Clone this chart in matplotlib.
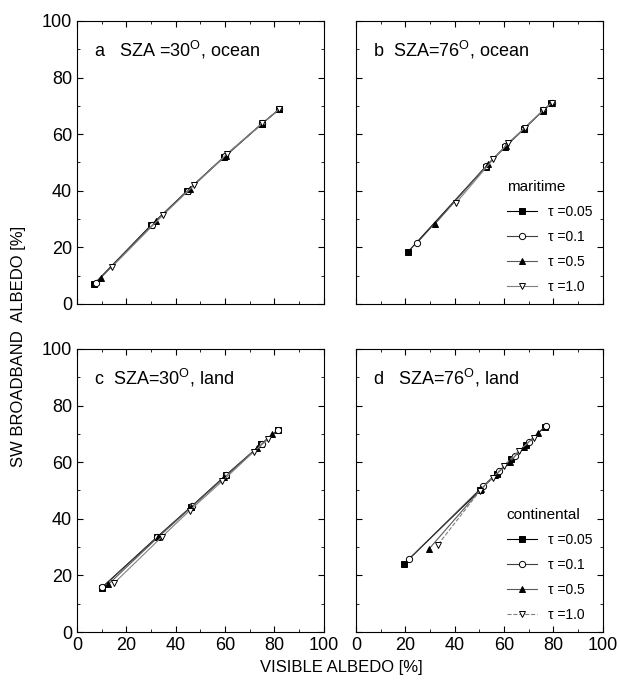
import matplotlib
matplotlib.use("Agg")
import matplotlib.pyplot as plt
from matplotlib.ticker import MultipleLocator

plt.rcParams["font.family"] = ["Liberation Sans", "DejaVu Sans"]
plt.rcParams["mathtext.fontset"] = "custom"
plt.rcParams["mathtext.rm"] = "Liberation Sans"

LABELS = ["\u03c4 =0.05", "\u03c4 =0.1", "\u03c4 =0.5", "\u03c4 =1.0"]

# panel a: SZA=30, ocean (maritime)
a_x = [[6.9, 30.0, 44.5, 59.5, 75.0, 82.0],
       [7.6, 30.4, 44.9, 59.9, 75.1, 82.1],
       [9.7, 32.2, 45.8, 60.3, 75.0, 82.0],
       [14.3, 35.1, 47.6, 60.8, 75.2, 82.1]]
a_y = [[7.0, 27.8, 39.8, 51.9, 63.7, 68.8],
       [7.5, 28.0, 40.1, 52.2, 63.8, 68.9],
       [9.3, 29.3, 40.8, 52.3, 63.7, 68.8],
       [13.2, 31.6, 42.0, 53.0, 63.9, 68.9]]

# panel b: SZA=76, ocean (maritime)
b_x = [[21.2, 52.6, 60.3, 68.0, 75.8, 79.2],
       [24.6, 52.9, 60.6, 68.2, 75.9, 79.3],
       [32.0, 53.6, 61.0, 68.3, 75.9, 79.3],
       [40.5, 55.6, 61.7, 68.5, 76.0, 79.4]]
b_y = [[18.5, 48.5, 55.4, 61.8, 68.3, 70.9],
       [21.4, 48.8, 55.7, 62.0, 68.4, 71.0],
       [28.2, 49.5, 55.9, 62.0, 68.4, 71.0],
       [35.6, 51.1, 56.8, 62.3, 68.5, 71.1]]

# panel c: SZA=30, land (continental)
c_x = [[10.0, 32.3, 46.4, 60.3, 74.8, 81.5],
       [10.3, 32.5, 46.5, 60.4, 75.0, 81.6],
       [12.7, 32.8, 46.3, 59.8, 73.0, 79.1],
       [15.0, 34.3, 45.7, 58.9, 71.7, 77.5]]
c_y = [[15.6, 33.4, 44.3, 55.3, 66.4, 71.4],
       [15.8, 33.5, 44.4, 55.4, 66.5, 71.5],
       [16.8, 33.4, 44.0, 54.6, 64.9, 69.9],
       [17.2, 33.5, 42.9, 53.3, 63.7, 68.1]]

# panel d: SZA=76, land (continental)
d_x = [[19.4, 50.5, 57.0, 63.0, 69.0, 76.5],
       [21.7, 51.5, 58.0, 64.4, 70.0, 77.0],
       [29.5, 50.8, 56.5, 62.5, 68.0, 74.0],
       [33.3, 50.2, 55.5, 60.0, 66.0, 72.0]]
d_y = [[24.0, 50.3, 55.8, 61.0, 66.0, 72.5],
       [25.9, 51.5, 56.8, 62.2, 67.0, 72.9],
       [29.2, 50.6, 55.4, 60.2, 65.5, 70.3],
       [30.9, 49.8, 54.5, 58.8, 64.0, 68.6]]

markers = ["s", "o", "^", "v"]
mfc = ["black", "white", "black", "white"]
line_col = ["black", "0.25", "0.35", "0.5"]

fig = plt.figure(figsize=(6.2, 6.92), dpi=100)
w, h = 0.398, 0.409
ax_a = fig.add_axes([0.124, 0.5607, w, h])
ax_b = fig.add_axes([0.574, 0.5607, w, h])
ax_c = fig.add_axes([0.124, 0.0867, w, h])
ax_d = fig.add_axes([0.574, 0.0867, w, h])

panels = [
    (ax_a, a_x, a_y, "a   SZA =30$^{\\mathrm{O}}$, ocean", None, "-"),
    (ax_b, b_x, b_y, "b  SZA=76$^{\\mathrm{O}}$, ocean", "maritime", "-"),
    (ax_c, c_x, c_y, "c  SZA=30$^{\\mathrm{O}}$, land", None, "-"),
    (ax_d, d_x, d_y, "d   SZA=76$^{\\mathrm{O}}$, land", "continental", "--"),
]

for ax, xs, ys, title, leg, last_ls in panels:
    for i in range(4):
        ls = last_ls if i == 3 else "-"
        ax.plot(xs[i], ys[i], linestyle=ls, color=line_col[i], lw=0.8,
                marker=markers[i], markersize=4.5, markerfacecolor=mfc[i],
                markeredgecolor="black", markeredgewidth=0.7, label=LABELS[i])
    ax.set_xlim(0, 100)
    ax.set_ylim(0, 100)
    ax.xaxis.set_major_locator(MultipleLocator(20))
    ax.xaxis.set_minor_locator(MultipleLocator(10))
    ax.yaxis.set_major_locator(MultipleLocator(20))
    ax.yaxis.set_minor_locator(MultipleLocator(10))
    ax.tick_params(which="both", direction="in", top=True, right=True, labelsize=13)
    ax.tick_params(which="major", length=4)
    ax.tick_params(which="minor", length=2.5)
    ax.text(0.07, 0.935, title, transform=ax.transAxes, fontsize=13, va="top")
    if leg:
        lg = ax.legend(loc="lower right", frameon=False, title=leg, fontsize=10,
                       title_fontsize=11, handlelength=2.2, labelspacing=0.8,
                       borderaxespad=0.3)
        lg._legend_box.align = "left"

ax_a.tick_params(labelbottom=False)
ax_b.tick_params(labelbottom=False, labelleft=False)
ax_d.tick_params(labelleft=False)

fig.text(0.03, 0.5, "SW BROADBAND  ALBEDO [%]", rotation=90, ha="center",
         va="center", fontsize=12)
fig.text(0.55, 0.035, "VISIBLE ALBEDO [%]", ha="center", va="center", fontsize=12)

fig.savefig("out.png", dpi=100)
